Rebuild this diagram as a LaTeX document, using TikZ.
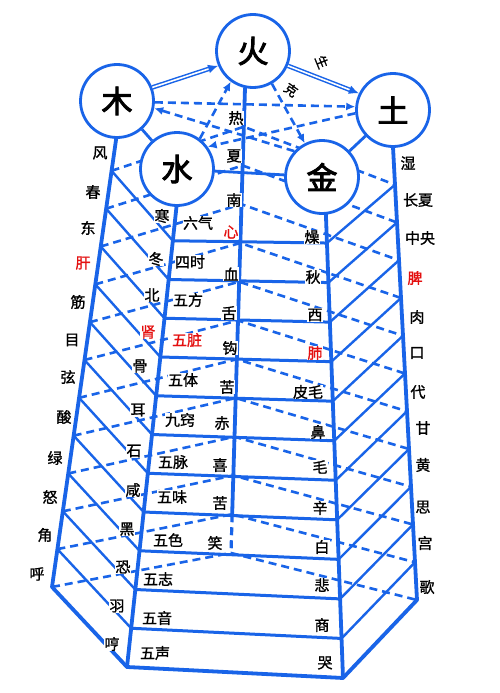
\documentclass[tikz,border=0pt]{standalone}
\usepackage{fontspec}
\newfontfamily\cjk[FakeBold=1.2]{Noto Sans CJK SC}
\newfontfamily\cjkbold[FakeBold=3]{Noto Sans CJK SC}
\usetikzlibrary{arrows.meta}
\definecolor{lineblue}{RGB}{25,100,232}
\definecolor{labred}{RGB}{228,15,15}
\begin{document}
\begin{tikzpicture}[x=1pt,y=-1pt,
  edge/.style={draw=lineblue,line width=3.8pt,line join=round,line cap=round},
  diag/.style={draw=lineblue,line width=2.4pt},
  rowline/.style={draw=lineblue,line width=3pt},
  dashline/.style={draw=lineblue,line width=2.6pt,dash pattern=on 8pt off 5pt},
  shengline/.style={draw=lineblue,line width=1.5pt,double=white,double distance=1.6pt,-{Latex[length=10pt,width=9pt]}},
  keline/.style={draw=lineblue,line width=2.6pt,dash pattern=on 8pt off 5pt,-{Latex[length=9pt,width=8pt]}},
  plainline/.style={draw=lineblue,line width=2.8pt},
  elem/.style={circle,draw=lineblue,line width=2.8pt,fill=white,minimum size=73pt,inner sep=0pt,font=\cjkbold\fontsize{31}{31}\selectfont},
  lab/.style={font=\cjk\fontsize{15}{15}\selectfont,inner sep=0.3pt,fill=white,text=black},
  redlab/.style={lab,text=labred},
  rel/.style={font=\cjk\fontsize{13}{13}\selectfont,inner sep=0pt,text=black}]
\useasboundingbox (0,0) rectangle (500,693);
\fill[white] (0,0) rectangle (500,693);
% layer points
\foreach \k in {0,...,12}{
  \coordinate (W\k) at ({117-65*\k/12},{133+37.83*\k});
  \coordinate (S\k) at ({177-50*\k/12},{202+38.75*\k});
  \coordinate (R\k) at ({325.5+17.5*\k/12},{203.5+39.54*\k});
  \coordinate (T\k) at ({393+24*\k/12},{147+37.75*\k});
  \coordinate (F\k) at ({245-14*\k/12},{88+38.75*\k});
}
% hidden back edges of each layer
\foreach \k in {1,...,12}{
  \draw[dashline] (W\k) -- (F\k) -- (T\k);
}
% visible layer edges
\foreach \k in {1,...,11}{
  \draw[diag] (W\k) -- (S\k);
  \draw[diag] (R\k) -- (T\k);
  \draw[rowline] (S\k) -- (R\k);
}
% main edges of the prism
\draw[edge] (W0) -- (W12) -- (S12) -- (R12) -- (T12) -- (T0);
\draw[edge] (S0) -- (S12);
\draw[edge] (R0) -- (R12);
\draw[edge] (F0) -- (F11);
\draw[dashline,line width=3.2pt] (F11) -- (F12);
% element circles
\node[elem] (cF) at (253,51) {火};
\node[elem] (cW) at (117,101) {木};
\node[elem] (cT) at (393,110) {土};
\node[elem] (cS) at (177,169) {水};
\node[elem] (cR) at (322,177) {金};
% generating cycle
\draw[shengline] (cW.21) -- (cF.203);
\draw[shengline] (cF.-23) -- (cT.154);
\draw[plainline] (cT) -- (cR);
\draw[plainline] (cR) -- (cS);
\draw[plainline] (cS) -- (cW);
% controlling cycle
\draw[keline] (cW.-2) -- (cT.175);
\draw[keline] (cT.185) -- (cS.36);
\draw[keline] (cS.53) -- (cF.234);
\draw[keline] (cF.-60) -- (cR.117);
\draw[keline] (cR.137) -- (cW.-11);
\node[rel,rotate=-68] (sheng) at (322,62) {生};
\node[rel,rotate=-35] (ke) at (291,90) {克};
% wood column
\node[lab] (w1) at (100,153) {风};
\node[lab] (w2) at (93,192) {春};
\node[lab] (w3) at (88,228) {东};
\node[redlab] (w4) at (83,263) {肝};
\node[lab] (w5) at (78,302) {筋};
\node[lab] (w6) at (72,340) {目};
\node[lab] (w7) at (68,377) {弦};
\node[lab] (w8) at (64,417) {酸};
\node[lab] (w9) at (55,458) {绿};
\node[lab] (w10) at (50,497) {怒};
\node[lab] (w11) at (45,535) {角};
\node[lab] (w12) at (37,574) {呼};
% water column
\node[lab] (s1) at (162,216) {寒};
\node[lab] (s2) at (156,259) {冬};
\node[lab] (s3) at (152,295) {北};
\node[redlab] (s4) at (148,332) {肾};
\node[lab] (s5) at (140,366) {骨};
\node[lab] (s6) at (138,410) {耳};
\node[lab] (s7) at (134,451) {石};
\node[lab] (s8) at (133,490) {咸};
\node[lab] (s9) at (127,529) {黑};
\node[lab] (s10) at (123,567) {恐};
\node[lab] (s11) at (117,606) {羽};
\node[lab] (s12) at (112,644) {哼};
% row titles
\node[lab] (r1) at (198,223) {六气};
\node[lab] (r2) at (190,262) {四时};
\node[lab] (r3) at (188,300) {五方};
\node[redlab] (r4) at (187,340) {五脏};
\node[lab] (r5) at (183,380) {五体};
\node[lab] (r6) at (180,420) {九窍};
\node[lab] (r7) at (173,462) {五脉};
\node[lab] (r8) at (172,497) {五味};
\node[lab] (r9) at (168,540) {五色};
\node[lab] (r10) at (158,579) {五志};
\node[lab] (r11) at (157,618) {五音};
\node[lab] (r12) at (155,653) {五声};
% fire column
\node[lab] (f0) at (236,118) {热};
\node[lab] (f1) at (234,156) {夏};
\node[lab] (f2) at (234,200) {南};
\node[redlab] (f3) at (231,232) {心};
\node[lab] (f4) at (231,274) {血};
\node[lab] (f5) at (229,313) {舌};
\node[lab] (f6) at (230,348) {钩};
\node[lab] (f7) at (227,387) {苦};
\node[lab] (f8) at (222,423) {赤};
\node[lab] (f9) at (220,465) {喜};
\node[lab] (f10) at (220,503) {苦};
\node[lab] (f11) at (215,543) {笑};
% metal column
\node[lab] (m1) at (312,237) {燥};
\node[lab] (m2) at (313,277) {秋};
\node[lab] (m3) at (315,315) {西};
\node[redlab] (m4) at (315,353) {肺};
\node[lab] (m5) at (308,392) {皮毛};
\node[lab] (m6) at (318,432) {鼻};
\node[lab] (m7) at (320,467) {毛};
\node[lab] (m8) at (320,508) {辛};
\node[lab] (m9) at (322,547) {白};
\node[lab] (m10) at (322,585) {悲};
\node[lab] (m11) at (322,625) {商};
\node[lab] (m12) at (325,663) {哭};
% earth column
\node[lab] (t1) at (408,163) {湿};
\node[lab] (t2) at (418,200) {长夏};
\node[lab] (t3) at (420,238) {中央};
\node[redlab] (t4) at (415,278) {脾};
\node[lab] (t5) at (417,317) {肉};
\node[lab] (t6) at (417,353) {口};
\node[lab] (t7) at (418,392) {代};
\node[lab] (t8) at (423,428) {甘};
\node[lab] (t9) at (423,465) {黄};
\node[lab] (t10) at (423,507) {思};
\node[lab] (t11) at (425,543) {宫};
\node[lab] (t12) at (427,587) {歌};
\end{tikzpicture}
\end{document}
